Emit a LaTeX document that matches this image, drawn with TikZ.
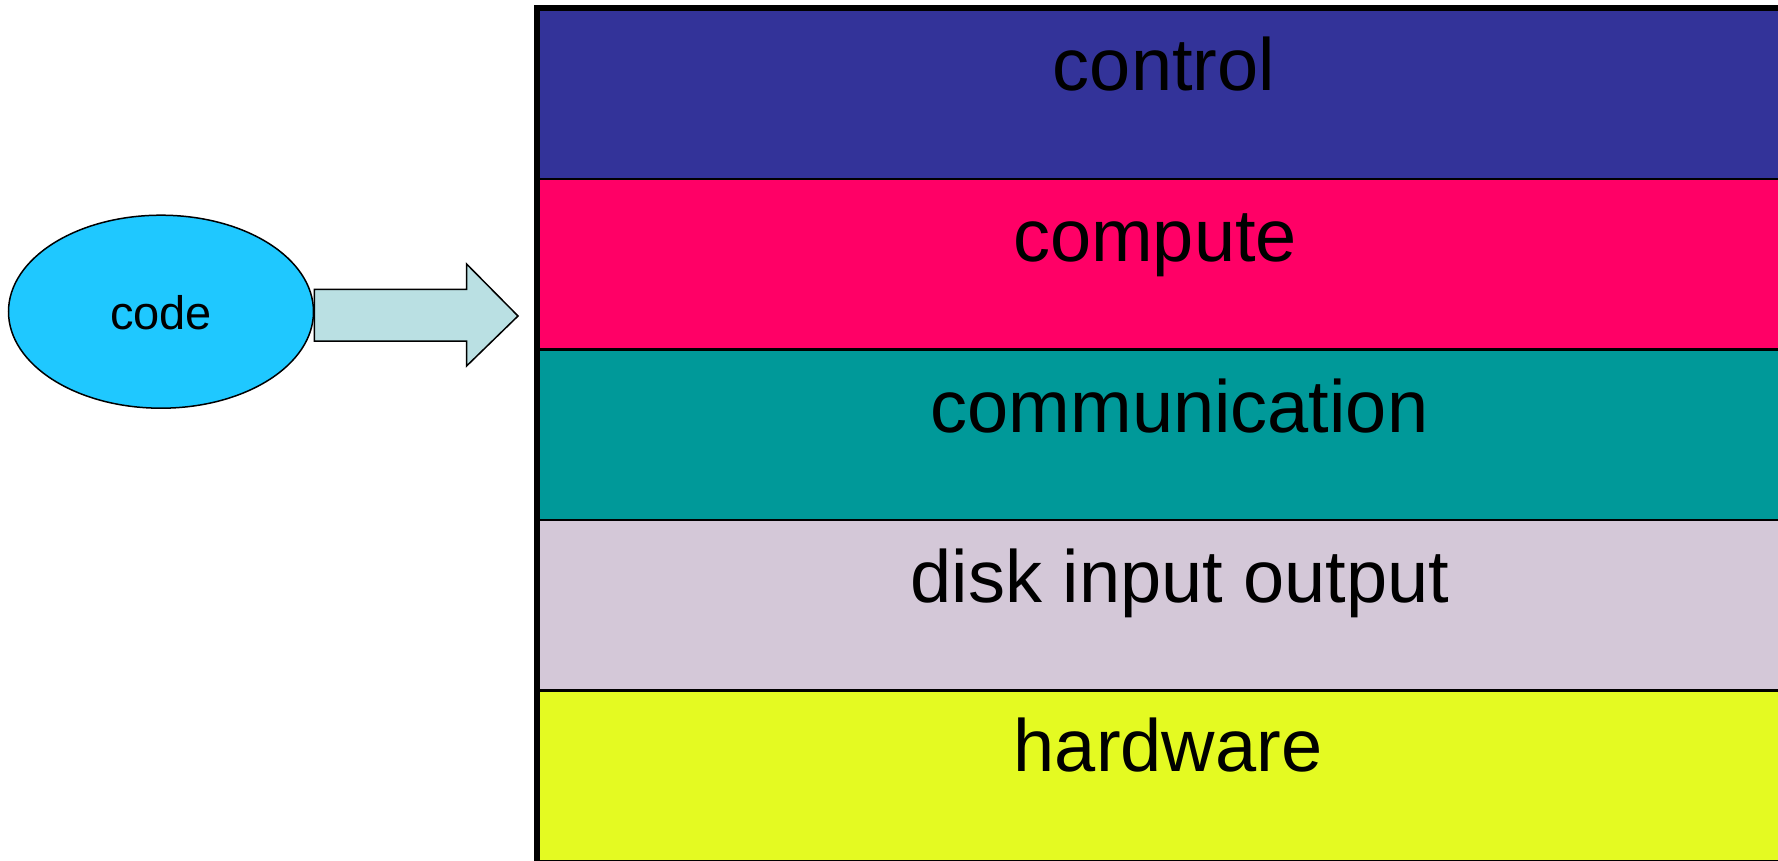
\documentclass[tikz,border=0pt]{standalone}
\usepackage{fontspec}
\setmainfont{Liberation Sans}
\usetikzlibrary{shapes.geometric}
\definecolor{cControl}{HTML}{333399}
\definecolor{cCompute}{HTML}{FF0066}
\definecolor{cComm}{HTML}{009999}
\definecolor{cDisk}{HTML}{D4C8D8}
\definecolor{cHard}{HTML}{E4FA22}
\definecolor{cCode}{HTML}{1FC8FF}
\definecolor{cArrow}{HTML}{BAE0E3}
\tikzset{
  bandlabel/.style={anchor=base, font=\fontsize{74}{80}\selectfont, inner sep=0pt},
}
\begin{document}
\begin{tikzpicture}[x=1pt,y=-1pt]
\useasboundingbox (0,0) rectangle (1778,861);
% bands
\fill[cControl] (537,8.5) rectangle (1790,179);
\fill[cCompute] (537,179) rectangle (1790,349.5);
\fill[cComm] (537,349.5) rectangle (1790,520);
\fill[cDisk] (537,520) rectangle (1790,690.5);
\fill[cHard] (537,690.5) rectangle (1790,861);
\draw[line width=2.5pt] (537,179) -- (1790,179)
  (537,349.5) -- (1790,349.5)
  (537,520) -- (1790,520)
  (537,690.5) -- (1790,690.5);
\draw[line width=6pt] (537,864) -- (537,8.5) -- (1790,8.5);
\draw[line width=3pt] (537,861) -- (1790,861);
\node[bandlabel] (control) at (1164,91) {control};
\node[bandlabel] (compute) at (1155,261.7) {compute};
\node[bandlabel] (comm) at (1179.5,432.7) {communication};
\node[bandlabel] (disk) at (1180,602.7) {disk input output};
\node[bandlabel] (hard) at (1168,771.7) {hardware};
% code ellipse
\node[ellipse, draw=black, line width=1.5pt, fill=cCode, minimum width=305pt, minimum height=193pt, inner sep=0pt] (code) at (161,311.7) {};
\node[anchor=base, inner sep=0pt, font=\fontsize{47}{52}\selectfont] (codetext) at (161,329.3) {code};
% block arrow
\coordinate (tip) at (518,316);
\draw[fill=cArrow, line width=1.5pt, line join=miter]
  (code.east |- 0,289.3) -- (466.6,289.3) -- (466.6,264) -- (tip) -- (466.6,366) -- (466.6,341) -- (code.east |- 0,341) -- cycle;
\end{tikzpicture}
\end{document}
